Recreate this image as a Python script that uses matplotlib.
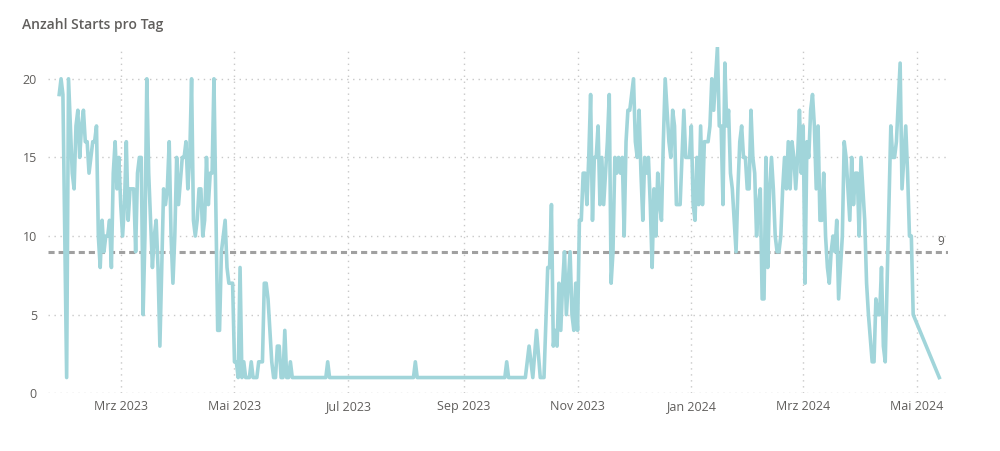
import matplotlib
matplotlib.use("Agg")
import matplotlib.pyplot as plt
import matplotlib.transforms as mtransforms
import pandas as pd

title = "Anzahl Starts pro Tag"
reference_value = 9

# daily number of starts (None = no data point that day)
jan23_start = "2023-01-27"
jan23 = [19, 20, 19, None, 1]
feb23 = [20, None, 14, 13, 17, 18, 15, 17, 18, 16, 16, 14, 15, 16, 16, 17, 10, 8, 11, 9,
         10, 10, 11, 8, 14, 16, 13, 15]
mar23 = [12, 10, 12, 16, 11, 13, 13, 13, 9, 14, 15, 15, 5, 10, 20, 14, None, 8, 10, 11,
         8, 3, 8, 13, 12, 13, 16, 10, 7, 10, 15]
apr23 = [12, None, 15, 15, 16, 13, 15, 20, 11, 10, 11, 13, 13, 10, 11, 15, 12, 14, 14, 20,
         None, 4, 4, 9, None, 11, 8, 7, 7, 7]
may23 = [2, 2, 1, 8, 1, 2, 1, 1, 1, 2, 1, 1, 1, 2, 2, 2, 7, 7, 6, 4,
         2, 1, 1, 3, 3, 1, 1, 4, 1, 1, 2]
jun23 = [1, 1, 1, 1, 1, 1, 1, 1, 1, 1, 1, 1, 1, 1, 1, 1, 1, 1, 1, 2,
         1, 1, 1, 1, 1, 1, 1, 1, 1, 1]
jul23 = [1, 1, 1, 1, 1, 1, 1, 1, 1, 1, 1, 1, 1, 1, 1, 1, 1, 1, 1, 1,
         1, 1, 1, 1, 1, 1, 1, 1, 1, 1, 1]
aug23 = [1, 1, 1, 1, 1, 2, 1, 1, 1, 1, 1, 1, 1, 1, 1, 1, 1, 1, 1, 1,
         1, 1, 1, 1, 1, 1, 1, 1, 1, 1, 1]
sep23 = [1, 1, 1, 1, 1, 1, 1, 1, 1, 1, 1, 1, 1, 1, 1, 1, 1, 1, 1, 1,
         1, 1, 1, 2, 1, 1, 1, 1, 1, 1]
oct23 = [1, 1, 1, 1, None, 3, None, 1, None, 4, None, 1, 1, 1, None, 8, 8, 12, 3, 4,
         3, 7, 4, 7, 9, 5, 7, 9, 5, 4, 7]
nov23 = [4, 11, 11, 14, 14, 12, 15, 19, 11, 15, 15, 17, 12, 15, 12, 14, 16, 19, 7, 9,
         15, 14, 15, 14, 15, 10, 16, 18, 18, 19]
dec23 = [20, 16, 15, 18, 14, 11, 15, 14, 15, 12, 8, 13, 10, 14, 12, 11, 16, 20, 18, 16,
         15, 18, 17, 12, 12, 12, 15, 18, 15, 15, 15]
jan24 = [17, 12, 11, 15, 12, 17, 12, 16, 16, 16, 17, 20, 18, 20, 22, 17, 17, 12, 21, 17,
         18, 14, 13, 11, 9, 13, 16, 17, 15, 15, 13]
feb24 = [13, 18, 15, 14, 10, 12, 13, 6, 6, 15, 8, 13, 15, 13, 10, 9, 9, 10, 13, 15,
         13, 16, 13, 16, 15, 13, 15, 18, 14]
mar24 = [17, 7, 16, 15, 18, 19, 17, 13, 17, 11, 11, 14, 10, 8, 7, 9, 10, 9, 11, 6,
         8, 10, 16, 15, 13, 11, 15, 12, 14, 14, 10]
apr24 = [15, 13, 11, 7, 5, None, 2, 2, 6, 5, 5, 8, 3, 2, None, None, 17, 15, 15, 16,
         None, 21, 13, 15, 17, 14, 10, 10, 5, None]
may24 = [None, None, None, None, None, None, None, None, None, None, None, None, 1]

months = [(jan23_start, jan23), ("2023-02-01", feb23), ("2023-03-01", mar23),
          ("2023-04-01", apr23), ("2023-05-01", may23), ("2023-06-01", jun23),
          ("2023-07-01", jul23), ("2023-08-01", aug23), ("2023-09-01", sep23),
          ("2023-10-01", oct23), ("2023-11-01", nov23), ("2023-12-01", dec23),
          ("2024-01-01", jan24), ("2024-02-01", feb24), ("2024-03-01", mar24),
          ("2024-04-01", apr24), ("2024-05-01", may24)]

tick_dates = ["2023-03-01", "2023-05-01", "2023-07-01", "2023-09-01",
              "2023-11-01", "2024-01-01", "2024-03-01", "2024-05-01"]
tick_labels = ["Mrz 2023", "Mai 2023", "Jul 2023", "Sep 2023",
               "Nov 2023", "Jan 2024", "Mrz 2024", "Mai 2024"]
y_ticks = [0, 5, 10, 15, 20]

dates, values = [], []
for start, arr in months:
    d0 = pd.Timestamp(start)
    for i, v in enumerate(arr):
        if v is not None:
            dates.append(d0 + pd.Timedelta(days=i))
            values.append(v)

plt.rcParams['font.family'] = ['Open Sans', 'DejaVu Sans']

fig = plt.figure(figsize=(10, 4.51), dpi=100)
ax = fig.add_axes([0.048, 0.128, 0.900, 0.767])

grid_color = "#C8C8C8"
for t in y_ticks:
    ax.axhline(t, color=grid_color, lw=1.0, linestyle=(0, (1, 3.3)), zorder=0)
for t in tick_dates:
    ax.axvline(pd.Timestamp(t), color=grid_color, lw=1.0, linestyle=(0, (1, 3.3)), zorder=0)

ax.axhline(reference_value, color="#A0A0A0", lw=2.2, dashes=(2, 1.3), zorder=1)
ax.plot(dates, values, color="#A1D5DA", lw=2.6, solid_joinstyle="round", zorder=2)

trans = mtransforms.blended_transform_factory(ax.transAxes, ax.transData)
ax.annotate(str(reference_value), xy=(1.0, reference_value), xycoords=trans,
            xytext=(-5, 3), textcoords="offset points", ha="center", va="bottom",
            fontsize=8.5, color="#605E5C")

ax.set_xlim(pd.Timestamp("2023-01-21"), pd.Timestamp("2024-05-17 16:00"))
ax.set_ylim(0, 22)
ax.set_xticks([pd.Timestamp(t) for t in tick_dates])
ax.set_xticklabels(tick_labels)
ax.set_yticks(y_ticks)
ax.set_yticklabels([str(t) for t in y_ticks])
ax.tick_params(axis="both", length=0, labelsize=9, labelcolor="#605E5C")
ax.tick_params(axis="x", pad=5)
ax.tick_params(axis="y", pad=8)
for s in ax.spines.values():
    s.set_visible(False)
ax.grid(False)

fig.text(0.022, 1 - 25 / 451, title, fontsize=10, fontweight="semibold",
         color="#605E5C", ha="left", va="center")

fig.savefig("out.png", dpi=100)
